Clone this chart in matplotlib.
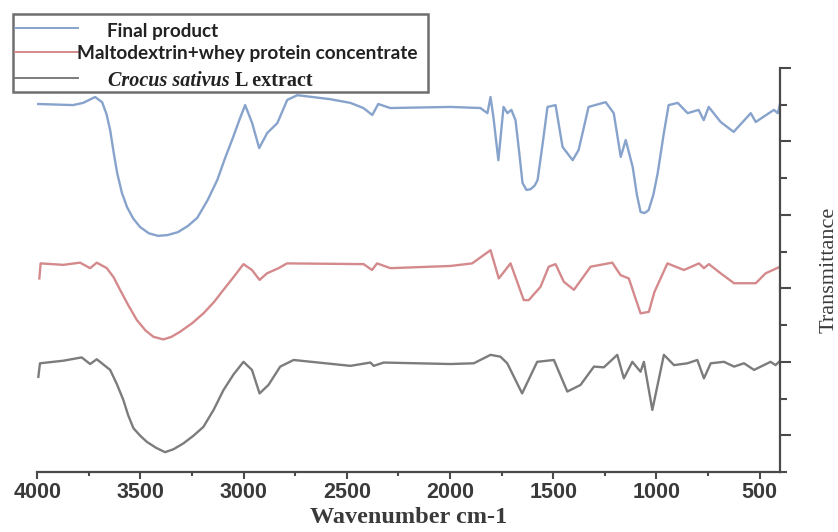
#import libraries
import numpy as np
import matplotlib
matplotlib.use('Agg')
import matplotlib.pyplot as plt
from matplotlib.patches import Rectangle
from matplotlib.lines import Line2D
from matplotlib.ticker import MultipleLocator

# FTIR spectra (wavenumber in cm-1, transmittance in offset units)
wn_final = [3997, 3827, 3778, 3720, 3686, 3665, 3647, 3630, 3613, 3590, 3565, 3535, 3502, 3460,
            3415, 3370, 3319, 3270, 3225, 3175, 3128, 3090, 3051, 3020, 2993,
            2959, 2925, 2886, 2837, 2789, 2740, 2580, 2483, 2420, 2377, 2348, 2290, 1998,
            1853, 1819, 1804, 1790, 1766, 1741, 1722, 1703, 1683, 1665, 1649, 1630, 1610, 1590,
            1576, 1550, 1528, 1489,
            1455, 1406, 1377, 1329, 1246, 1207, 1173, 1149, 1115, 1095, 1077, 1058, 1038, 1015,
            994, 965, 941, 897,
            849, 796, 771, 747, 689, 626, 543, 519, 431, 412, 397]
t_final = [10.02, 9.99, 10.05, 10.21, 10.07, 9.75, 9.31, 8.70, 8.14, 7.60, 7.21, 6.90, 6.67, 6.50,
           6.43, 6.45, 6.53, 6.70, 6.92, 7.40, 7.95, 8.55, 9.12, 9.60, 9.99,
           9.50, 8.82, 9.23, 9.50, 10.13, 10.26, 10.15, 10.05, 9.91, 9.72, 10.02, 9.91, 9.94,
           9.91, 9.77, 10.21, 9.66, 8.49, 9.94, 9.77, 9.86, 9.58, 8.70, 7.87, 7.68, 7.70, 7.80,
           7.95, 9.00, 9.94, 9.99,
           8.85, 8.49, 8.77, 9.94, 10.07, 9.77, 8.58, 9.04, 8.30, 7.55, 7.08, 7.05, 7.13, 7.55,
           8.14, 9.20, 9.99, 10.05,
           9.77, 9.86, 9.58, 9.94, 9.53, 9.26, 9.77, 9.53, 9.86, 9.77, 10.13]

wn_carrier = [3990, 3984, 3874, 3793, 3744, 3712, 3663, 3630, 3599, 3560, 3518, 3475, 3437, 3389,
              3350, 3308, 3250, 3195, 3145, 3098, 3050,
              3001, 2960, 2923, 2887, 2831, 2790, 2419, 2378, 2354, 2289, 1998, 1893, 1804, 1764,
              1707, 1643, 1619, 1562, 1522, 1489, 1449, 1400, 1319, 1214, 1174, 1134, 1100, 1077,
              1037, 1010, 947, 867, 794, 770, 746, 689, 624, 519, 471, 401]
t_carrier = [5.27, 5.68, 5.64, 5.70, 5.55, 5.70, 5.55, 5.30, 4.96, 4.55, 4.14, 3.85, 3.68, 3.61,
             3.68, 3.82, 4.05, 4.32, 4.62, 4.96, 5.30,
             5.66, 5.50, 5.23, 5.41, 5.55, 5.68, 5.66, 5.50, 5.68, 5.55, 5.61, 5.68, 6.04, 5.27,
             5.68, 4.68, 4.68, 5.04, 5.59, 5.66, 5.18, 4.96, 5.59, 5.70, 5.36, 5.27, 4.70, 4.32,
             4.36, 4.90, 5.68, 5.50, 5.68, 5.55, 5.66, 5.41, 5.14, 5.14, 5.41, 5.59]

wn_extract = [3995, 3987, 3874, 3785, 3744, 3712, 3647, 3615, 3583, 3560, 3534, 3500, 3469, 3425,
              3381, 3340, 3292, 3245, 3195, 3145, 3098, 3050,
              3001, 2960, 2923, 2880, 2823, 2758, 2483, 2386, 2370, 2322, 1998, 1885, 1804, 1756,
              1723, 1651, 1578, 1497, 1432, 1368, 1303, 1255, 1190, 1158, 1117, 1077, 1061, 1020,
              964, 915, 850, 802, 770, 737, 673, 624, 576, 527, 447, 423, 406]
t_extract = [2.59, 2.96, 3.03, 3.12, 2.94, 3.07, 2.78, 2.40, 1.96, 1.55, 1.19, 0.98, 0.82, 0.66,
             0.54, 0.62, 0.78, 0.98, 1.23, 1.70, 2.23, 2.65,
             3.00, 2.78, 2.14, 2.37, 2.87, 3.05, 2.89, 2.98, 2.89, 2.98, 2.94, 2.96, 3.19, 3.14,
             2.96, 2.14, 3.00, 3.05, 2.19, 2.37, 2.87, 2.85, 3.19, 2.55, 3.00, 2.73, 3.00, 1.69,
             3.19, 2.91, 2.96, 3.05, 2.55, 2.96, 3.00, 2.87, 2.96, 2.78, 3.00, 2.91, 3.00]

labels = ['Final product', 'Maltodextrin+whey protein concentrate', 'Crocus sativus L extract']
colors = ['#87a3cc', '#d48a8c', '#7c7c7c']

W, H = 838, 532
fig = plt.figure(figsize=(W / 100, H / 100), dpi=100)
ax = fig.add_axes([37.3 / W, 1 - 472 / H, (780.3 - 37.3) / W, (472 - 68) / H])

series = [(wn_final, t_final), (wn_carrier, t_carrier), (wn_extract, t_extract)]
for (wn, t), c in zip(series, colors):
    ax.plot(wn, t, color=c, lw=1.7, solid_joinstyle='round')

ax.set_xlim(4000, 400)
ax.set_ylim(0, 11)

# spines: only bottom and right
axis_col = '#4a4a4a'
for s in ['top', 'left']:
    ax.spines[s].set_visible(False)
for s in ['bottom', 'right']:
    ax.spines[s].set_color(axis_col)
    ax.spines[s].set_linewidth(1.6)

ax.xaxis.set_major_locator(MultipleLocator(500))
ax.xaxis.set_minor_locator(MultipleLocator(250))
ax.yaxis.set_major_locator(MultipleLocator(2, offset=1))
ax.yaxis.set_minor_locator(MultipleLocator(1))
ax.yaxis.tick_right()
ax.tick_params(axis='x', which='major', length=5, width=1.5, color=axis_col,
               labelsize=15.5, labelcolor='#3a3a3a', pad=2)
ax.tick_params(axis='x', which='minor', length=3, width=1.5, color=axis_col)
ax.tick_params(axis='y', which='major', length=8, width=1.5, color=axis_col, labelright=False)
ax.tick_params(axis='y', which='minor', length=5, width=1.5, color=axis_col)
for lab in ax.get_xticklabels():
    lab.set_fontweight('bold')
    lab.set_family('Liberation Sans')

ax.set_xlabel('Wavenumber cm-1', family='Liberation Serif', fontweight='bold',
              fontsize=17.5, color='#3a3a3a', labelpad=3)
ax.yaxis.set_label_position('right')
ax.set_ylabel('Transmittance', family='Liberation Serif', fontsize=16,
              color='#3a3a3a', labelpad=20)

# hand-drawn legend box at the top left
def fx(px):
    return px / W

def fy(py):
    return 1 - py / H

fig.add_artist(Rectangle((fx(13), fy(92)), fx(428) - fx(13), fy(14) - fy(92),
                         transform=fig.transFigure, fill=False, ec='#6e6e6e', lw=1.8))
line_y = [28, 52, 78]
for yy, c in zip(line_y, colors):
    fig.add_artist(Line2D([fx(15), fx(78)], [fy(yy), fy(yy)], transform=fig.transFigure,
                          color=c, lw=1.4))

fig.text(fx(107), fy(31), labels[0], family='Lato', fontweight='bold', fontsize=13.6,
         va='center', color='#222222')
fig.text(fx(77), fy(53), labels[1], family='Lato', fontweight='bold', fontsize=13.7,
         va='center', color='#222222')
t1 = fig.text(fx(108), fy(81), 'Crocus sativus', family='Liberation Serif', style='italic',
              fontweight='bold', fontsize=14.5, va='center', color='#222222')
ax.annotate(' L extract', xy=(1, 0), xycoords=t1, va='bottom', ha='left',
            family='Liberation Serif', fontweight='bold', fontsize=14.5, color='#222222',
            annotation_clip=False)

plt.savefig('out.png', dpi=100)
